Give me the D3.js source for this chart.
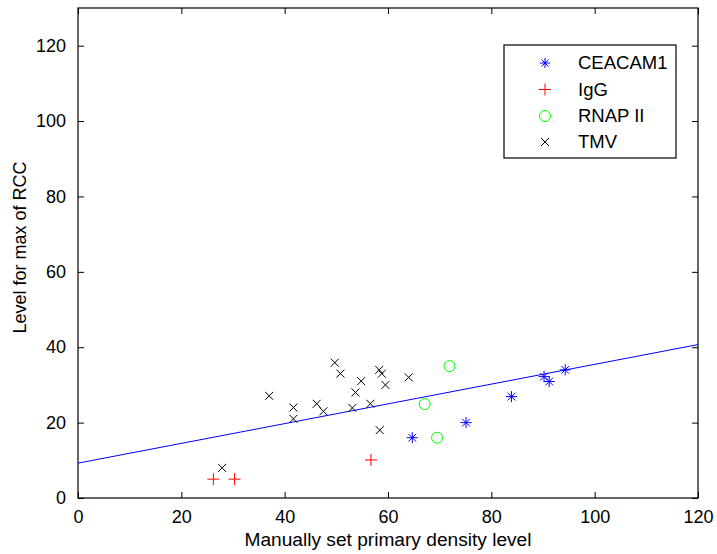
<!DOCTYPE html>
<html>
<head>
<meta charset="utf-8">
<script src="https://cdn.jsdelivr.net/npm/d3@7"></script>
<style>
  body { margin: 0; background: #fff; }
  svg { display: block; font-family: "Liberation Sans", Arial, sans-serif; }
</style>
</head>
<body>
<svg id="chart"></svg>
<script>
// data
const ceacamX = [64.7, 75.1, 83.9, 90.2, 91.2, 94.3];
const ceacamY = [16.0, 20.0, 26.9, 32.2, 30.9, 34.0];
const iggX = [26.2, 30.3, 56.7];
const iggY = [5.0, 5.0, 10.1];
const rnapX = [71.9, 67.1, 69.5];
const rnapY = [35.0, 24.9, 16.0];
const tmvX = [27.9, 37.0, 41.7, 41.7, 46.2, 47.5, 49.7, 50.8, 53.1, 53.7, 54.8, 56.6, 58.3, 58.8, 58.4, 59.5, 64.0];
const tmvY = [8.0, 27.1, 24.0, 21.0, 25.0, 23.0, 35.9, 33.0, 23.9, 28.0, 31.0, 25.0, 34.0, 33.0, 18.0, 30.0, 32.0];
const fitX = [0, 120];
const fitY = [9.25, 40.7];
const xTicks = [0, 20, 40, 60, 80, 100, 120];
const yTicks = [0, 20, 40, 60, 80, 100, 120];
const seriesNames = ['CEACAM1', 'IgG', 'RNAP II', 'TMV'];

(function(){
  const width = 717, height = 554;
  const left = 78, right = 698, top = 8, bottom = 498;

  const svg = d3.select('#chart')
      .attr('width', width)
      .attr('height', height);

  const x = d3.scaleLinear().domain([0, 120]).range([left, right]);
  const y = d3.scaleLinear().domain([0, 130]).range([bottom, top]);

  // axes, MATLAB style: inward ticks on all four sides
  svg.append('g')
      .attr('transform', `translate(0,${bottom})`)
      .call(d3.axisBottom(x).tickValues(xTicks).tickSizeInner(-6).tickSizeOuter(0).tickPadding(12))
      .call(g => g.select('.domain').remove());
  svg.append('g')
      .attr('transform', `translate(0,${top})`)
      .call(d3.axisTop(x).tickValues(xTicks).tickSizeInner(-6).tickSizeOuter(0).tickFormat(''))
      .call(g => g.select('.domain').remove());
  svg.append('g')
      .attr('transform', `translate(${left},0)`)
      .call(d3.axisLeft(y).tickValues(yTicks).tickSizeInner(-6).tickSizeOuter(0).tickPadding(12))
      .call(g => g.select('.domain').remove());
  svg.append('g')
      .attr('transform', `translate(${right},0)`)
      .call(d3.axisRight(y).tickValues(yTicks).tickSizeInner(-6).tickSizeOuter(0).tickFormat(''))
      .call(g => g.select('.domain').remove());

  svg.selectAll('.tick line').attr('stroke', '#000');
  svg.selectAll('.tick text')
      .attr('fill', '#000')
      .attr('font-size', 18)
      .attr('font-family', '"Liberation Sans", Arial, sans-serif');

  svg.append('rect')
      .attr('x', left).attr('y', top)
      .attr('width', right - left).attr('height', bottom - top)
      .attr('fill', 'none')
      .attr('stroke', '#000')
      .attr('stroke-width', 1.2);

  // fit line
  svg.append('path')
      .datum(fitX.map((v, i) => [v, fitY[i]]))
      .attr('d', d3.line().x(d => x(d[0])).y(d => y(d[1])))
      .attr('fill', 'none')
      .attr('stroke', '#0000ff')
      .attr('stroke-width', 1);

  // marker shapes
  let star = s => `M0,${-s}V${s}M${-s},0H${s}M${-s*0.7},${-s*0.7}L${s*0.7},${s*0.7}M${-s*0.7},${s*0.7}L${s*0.7},${-s*0.7}`;
  let plus = s => `M0,${-s}V${s}M${-s},0H${s}`;
  let cross = s => `M${-s},${-s}L${s},${s}M${-s},${s}L${s},${-s}`;

  let drawPath = (xs, ys, d, color) => {
    svg.append('g').selectAll('path')
      .data(xs.map((v, i) => [v, ys[i]]))
      .enter().append('path')
        .attr('transform', p => `translate(${x(p[0])},${y(p[1])})`)
        .attr('d', d)
        .attr('fill', 'none')
        .attr('stroke', color)
        .attr('stroke-width', 1);
  };

  drawPath(ceacamX, ceacamY, star(5.5), '#0000ff');
  drawPath(iggX, iggY, plus(6), '#ff0000');
  svg.append('g').selectAll('circle')
    .data(rnapX.map((v, i) => [v, rnapY[i]]))
    .enter().append('circle')
      .attr('cx', p => x(p[0]))
      .attr('cy', p => y(p[1]))
      .attr('r', 5.5)
      .attr('fill', 'none')
      .attr('stroke', '#00ff00')
      .attr('stroke-width', 1);
  drawPath(tmvX, tmvY, cross(4), '#000000');

  // legend
  let lg = svg.append('g');
  lg.append('rect')
      .attr('x', 504).attr('y', 45)
      .attr('width', 172).attr('height', 113)
      .attr('fill', '#fff')
      .attr('stroke', '#000')
      .attr('stroke-width', 1.2);
  let rowY = [63, 89.5, 116, 142];
  let legendShapes = [star(5), plus(6), null, cross(4)];
  let legendColors = ['#0000ff', '#ff0000', '#00ff00', '#000000'];
  seriesNames.forEach((name, i) => {
    if(legendShapes[i]){
      lg.append('path')
          .attr('transform', `translate(545,${rowY[i]})`)
          .attr('d', legendShapes[i])
          .attr('fill', 'none')
          .attr('stroke', legendColors[i]);
    } else {
      lg.append('circle')
          .attr('cx', 545).attr('cy', rowY[i]).attr('r', 5.5)
          .attr('fill', 'none')
          .attr('stroke', legendColors[i]);
    }
    lg.append('text')
        .attr('x', 578).attr('y', rowY[i])
        .attr('dy', '0.35em')
        .attr('font-size', 18.5)
        .text(name);
  });

  // axis titles
  svg.append('text')
      .attr('x', (left + right) / 2)
      .attr('y', 546)
      .attr('text-anchor', 'middle')
      .attr('font-size', 18)
      .attr('textLength', 287)
      .attr('lengthAdjust', 'spacingAndGlyphs')
      .text('Manually set primary density level');

  svg.append('text')
      .attr('transform', `translate(26,247.5) rotate(-90)`)
      .attr('text-anchor', 'middle')
      .attr('font-size', 18)
      .attr('textLength', 172)
      .attr('lengthAdjust', 'spacingAndGlyphs')
      .text('Level for max of RCC');
})();
</script>
</body>
</html>
